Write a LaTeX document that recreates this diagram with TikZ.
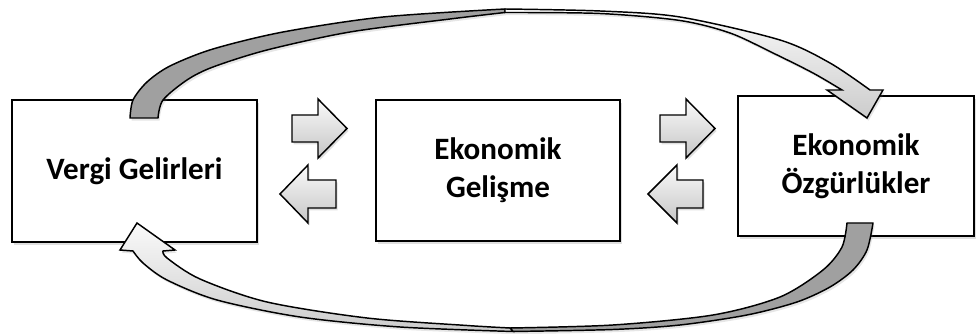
\documentclass[tikz,border=0pt]{standalone}
\usepackage{fontspec}
\setmainfont{Carlito}
\usetikzlibrary{shadows}
\definecolor{bandgray}{RGB}{160,160,160}
\begin{document}
\begin{tikzpicture}[x=0.75pt,y=-0.75pt,
  box/.style={draw=black, line width=1.4pt, fill=white, inner sep=0pt, align=center,
    font=\bfseries\fontsize{23.3}{28.5}\selectfont,
    drop shadow={opacity=0.25, shadow xshift=1.2pt, shadow yshift=-2.2pt}},
  blockarrow/.style={draw=black, line width=1.1pt, line join=miter,
    top color=gray!4, bottom color=gray!45,
    drop shadow={opacity=0.25, shadow xshift=1.2pt, shadow yshift=-1.8pt}},
  darkband/.style={draw=black, line width=1.1pt, line join=round, fill=bandgray,
    drop shadow={opacity=0.2, shadow xshift=1.2pt, shadow yshift=-2pt}},
  lightband/.style={draw=black, line width=1.1pt, line join=miter,
    top color=gray!4, bottom color=gray!40,
    drop shadow={opacity=0.2, shadow xshift=1.2pt, shadow yshift=-2pt}}]
\useasboundingbox (0,0) rectangle (976,334);

% boxes
\node[box, minimum width=183.75pt, minimum height=106.5pt] (vg) at (134.5,171) {Vergi Gelirleri};
\node[box, minimum width=183pt, minimum height=105.75pt] (eg) at (498,170.5) {Ekonomik\\Gelişme};
\node[box, minimum width=177pt, minimum height=105pt] (eo) at (856,166) {Ekonomik\\Özgürlükler};

% block arrows
\path[blockarrow] (292,115) -- (318,115) -- (318,99) -- (347,128.5) -- (318,158) -- (318,142) -- (292,142) -- cycle;
\path[blockarrow] (336,180) -- (308,180) -- (308,165) -- (280,194) -- (308,223) -- (308,208) -- (336,208) -- cycle;
\path[blockarrow] (660,115) -- (686,115) -- (686,99) -- (715,128.5) -- (686,158) -- (686,142) -- (660,142) -- cycle;
\path[blockarrow] (703,180) -- (677,180) -- (677,165) -- (648,194) -- (677,223) -- (677,208) -- (703,208) -- cycle;

% top curved arrow: tail (dark) on Vergi Gelirleri
\path[darkband] plot[smooth] coordinates {(130,118)(133,100)(147,82)(170,66)(213,49)(283,32)(383,17)(505,9)}
  -- plot[smooth] coordinates {(505,12.5)(450,19)(350,32)(267,50)(213,67)(187,80)(163,100)(158,118)} -- cycle;
% top curved arrow: head (light) on Ekonomik Ozgurlukler
\path[lightband] plot[smooth] coordinates {(505,9)(600,11)(680,17)(780,40)(830,63)(870,90)}
  -- (883,90) -- (867,118) -- (827,90) -- (842,90)
  -- plot[smooth] coordinates {(842,90)(813,73)(773,53)(730,33)(680,20.5)(600,13.5)(505,12.5)} -- cycle;

% bottom curved arrow: tail (dark) on Ekonomik Ozgurlukler
\path[darkband] plot[smooth] coordinates {(847,223)(842,247)(823,270)(780,297)(713,315)(613,325)(510,328)}
  -- plot[smooth] coordinates {(513,331.5)(613,329.5)(680,325)(747,315)(797,302)(830,287)(853,270)(867,250)(873,223)} -- cycle;
% bottom curved arrow: head (light) on Vergi Gelirleri
\path[lightband] plot[smooth] coordinates {(510,328)(467,325.5)(367,318)(267,302)(200,279)(167,258)(163,251)}
  -- (175,250) -- (137,223) -- (120,250) -- (133,251)
  -- plot[smooth] coordinates {(133,251)(143,263)(167,280)(217,300)(300,317)(400,327)(513,331.5)} -- cycle;
\end{tikzpicture}
\end{document}
